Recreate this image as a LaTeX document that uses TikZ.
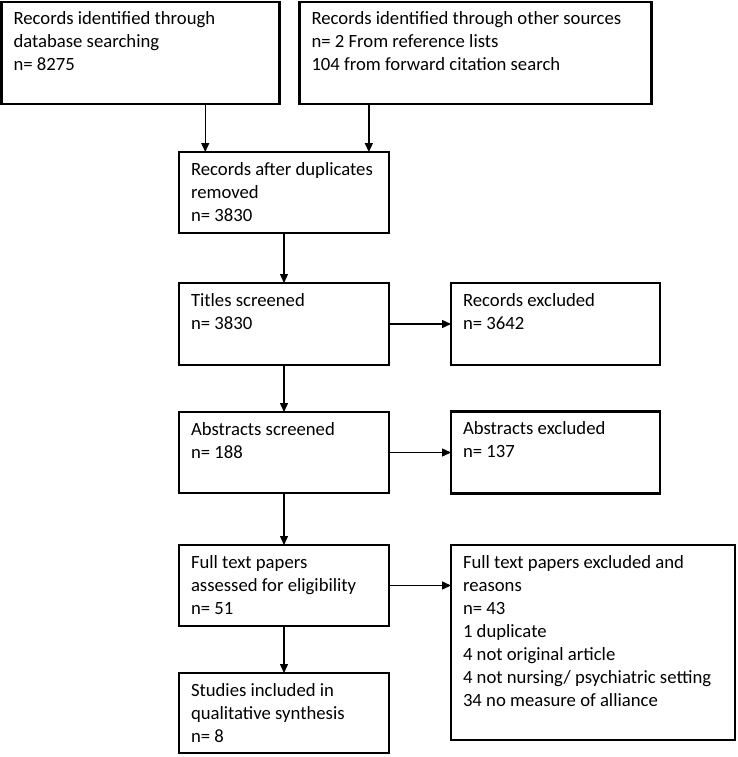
\documentclass[tikz,border=0pt]{standalone}
\usepackage{fontspec}
\setmainfont{Carlito}
\usetikzlibrary{positioning,arrows.meta,calc}

\newcommand{\boxtext}[3]{\parbox[c][#1][t]{#2}{\raggedright\rule{0pt}{23pt}#3}}

\tikzset{
  stage/.style={draw, line width=2.2pt, inner xsep=12pt, inner ysep=0pt, outer sep=0pt, font=\fontsize{18.7}{23}\selectfont},
  flow/.style={line width=1.4pt, -{Triangle[length=9pt,width=8pt]}},
}

\begin{document}
\begin{tikzpicture}[x=1pt, y=1pt]
    \useasboundingbox (0,0) rectangle (738,-757);
    % identification
    \node [stage, anchor=north west] (dbsearch) at (1.5,-2) {\boxtext{102pt}{254pt}{Records identified through\\ database searching\\ n= 8275}};
    \node [stage, right=20pt of dbsearch] (othersrc) {\boxtext{102pt}{328pt}{Records identified through other sources\\ n= 2 From reference lists\\ 104 from forward citation search}};

    % screening
    \node [stage, anchor=north west] (dedup) at (179,-152) {\boxtext{81pt}{186pt}{Records after duplicates\\ removed\\ n= 3830}};
    \node [stage, below=50pt of dedup] (titles) {\boxtext{82pt}{186pt}{Titles screened\\ n= 3830}};
    \node [stage, right=62pt of titles] (recexcl) {\boxtext{82pt}{185pt}{Records excluded\\ n= 3642}};
    \node [stage, below=47pt of titles] (abstracts) {\boxtext{81pt}{186pt}{Abstracts screened\\ n= 188}};
    \node [stage, right=62pt of abstracts] (absexcl) {\boxtext{82pt}{185pt}{Abstracts excluded\\ n= 137}};

    % eligibility and inclusion
    \node [stage, below=52pt of abstracts] (fulltext) {\boxtext{81pt}{186pt}{Full text papers\\ assessed for eligibility\\ n= 51}};
    \node [stage, right=62pt of fulltext.north east, anchor=north west] (ftexcl) {\boxtext{195pt}{260pt}{Full text papers excluded and\\ reasons\\ n= 43\\ 1 duplicate\\ 4 not original article\\ 4 not nursing/ psychiatric setting\\ 34 no measure of alliance}};
    \node [stage, below=47pt of fulltext] (studies) {\boxtext{80pt}{186pt}{Studies included in\\ qualitative synthesis\\ n= 8}};

    \coordinate (in1) at ($(dedup.north west)!0.125!(dedup.north east)$);
    \coordinate (in2) at ($(dedup.north west)!0.904!(dedup.north east)$);
    \draw [flow] (dbsearch.south -| in1) -- (in1);
    \draw [flow] (othersrc.south -| in2) -- (in2);
    \draw [flow] (dedup) -- (titles);
    \draw [flow] (titles) -- (recexcl);
    \draw [flow] (titles) -- (abstracts);
    \draw [flow] (abstracts) -- (absexcl);
    \draw [flow] (abstracts) -- (fulltext);
    \draw [flow] (fulltext) -- (fulltext -| ftexcl.west);
    \draw [flow] (fulltext) -- (studies);
\end{tikzpicture}
\end{document}
